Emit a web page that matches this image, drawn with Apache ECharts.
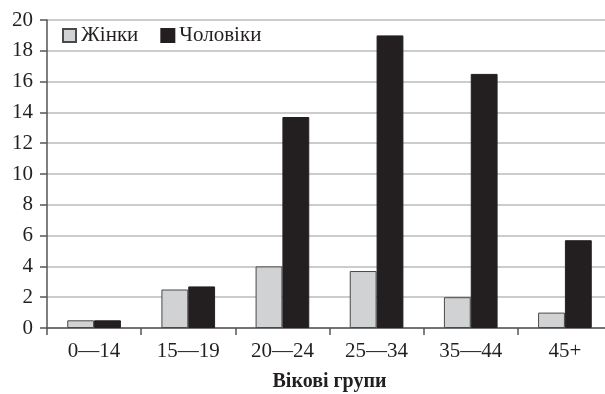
<!DOCTYPE html>
<html>
<head>
<meta charset="utf-8">
<script src="https://cdn.jsdelivr.net/npm/echarts@6/dist/echarts.min.js"></script>
<style>
html,body{margin:0;padding:0;background:#fff;}
#chart{width:605px;height:394px;}
</style>
</head>
<body>
<div id="chart"></div>
<script>
const categories = ['0—14', '15—19', '20—24', '25—34', '35—44', '45+'];
const women = [0.5, 2.5, 4, 3.7, 2, 1];
const men = [0.5, 2.7, 13.7, 19, 16.5, 5.7];
const seriesNames = ['Жінки', 'Чоловіки'];
const xAxisTitle = 'Вікові групи';

const font = 'Liberation Serif';
const chart = echarts.init(document.getElementById('chart'), null, {renderer: 'canvas'});
chart.setOption({
  animation: false,
  backgroundColor: '#fff',
  textStyle: {fontFamily: font},
  grid: {left: 47, right: -7, top: 20, bottom: 66, containLabel: false, outerBoundsMode: 'none'},
  legend: {
    left: 62, top: 25, padding: 0,
    itemWidth: 13, itemHeight: 13, itemGap: 22,
    icon: 'rect',
    textStyle: {fontFamily: font, fontSize: 21, color: '#231f20'},
    data: seriesNames
  },
  xAxis: {
    type: 'category',
    data: categories,
    name: xAxisTitle,
    nameLocation: 'middle',
    nameGap: 44,
    nameTextStyle: {fontFamily: font, fontSize: 20, fontWeight: 'bold', color: '#231f20'},
    axisLine: {lineStyle: {color: '#555', width: 1.5}},
    axisTick: {show: true, length: 7, lineStyle: {color: '#555', width: 1.5}},
    axisLabel: {fontFamily: font, fontSize: 21, color: '#231f20', margin: 13},
    splitLine: {show: false}
  },
  yAxis: {
    type: 'value',
    min: 0, max: 20, interval: 2,
    axisLine: {show: true, lineStyle: {color: '#555', width: 1.5}},
    axisTick: {show: true, length: 7, lineStyle: {color: '#555', width: 1.5}},
    axisLabel: {fontFamily: font, fontSize: 21, color: '#231f20', margin: 14},
    splitLine: {lineStyle: {color: '#bbb', width: 1.5}}
  },
  series: [
    {
      name: seriesNames[0], type: 'bar', data: women,
      barGap: '0%', barCategoryGap: '43%',
      itemStyle: {color: '#d1d2d4', borderColor: '#4a4a4a', borderWidth: 1}
    },
    {
      name: seriesNames[1], type: 'bar', data: men,
      barGap: '0%', barCategoryGap: '43%',
      itemStyle: {color: '#231f20', borderColor: '#231f20', borderWidth: 1}
    }
  ]
});
</script>
</body>
</html>
